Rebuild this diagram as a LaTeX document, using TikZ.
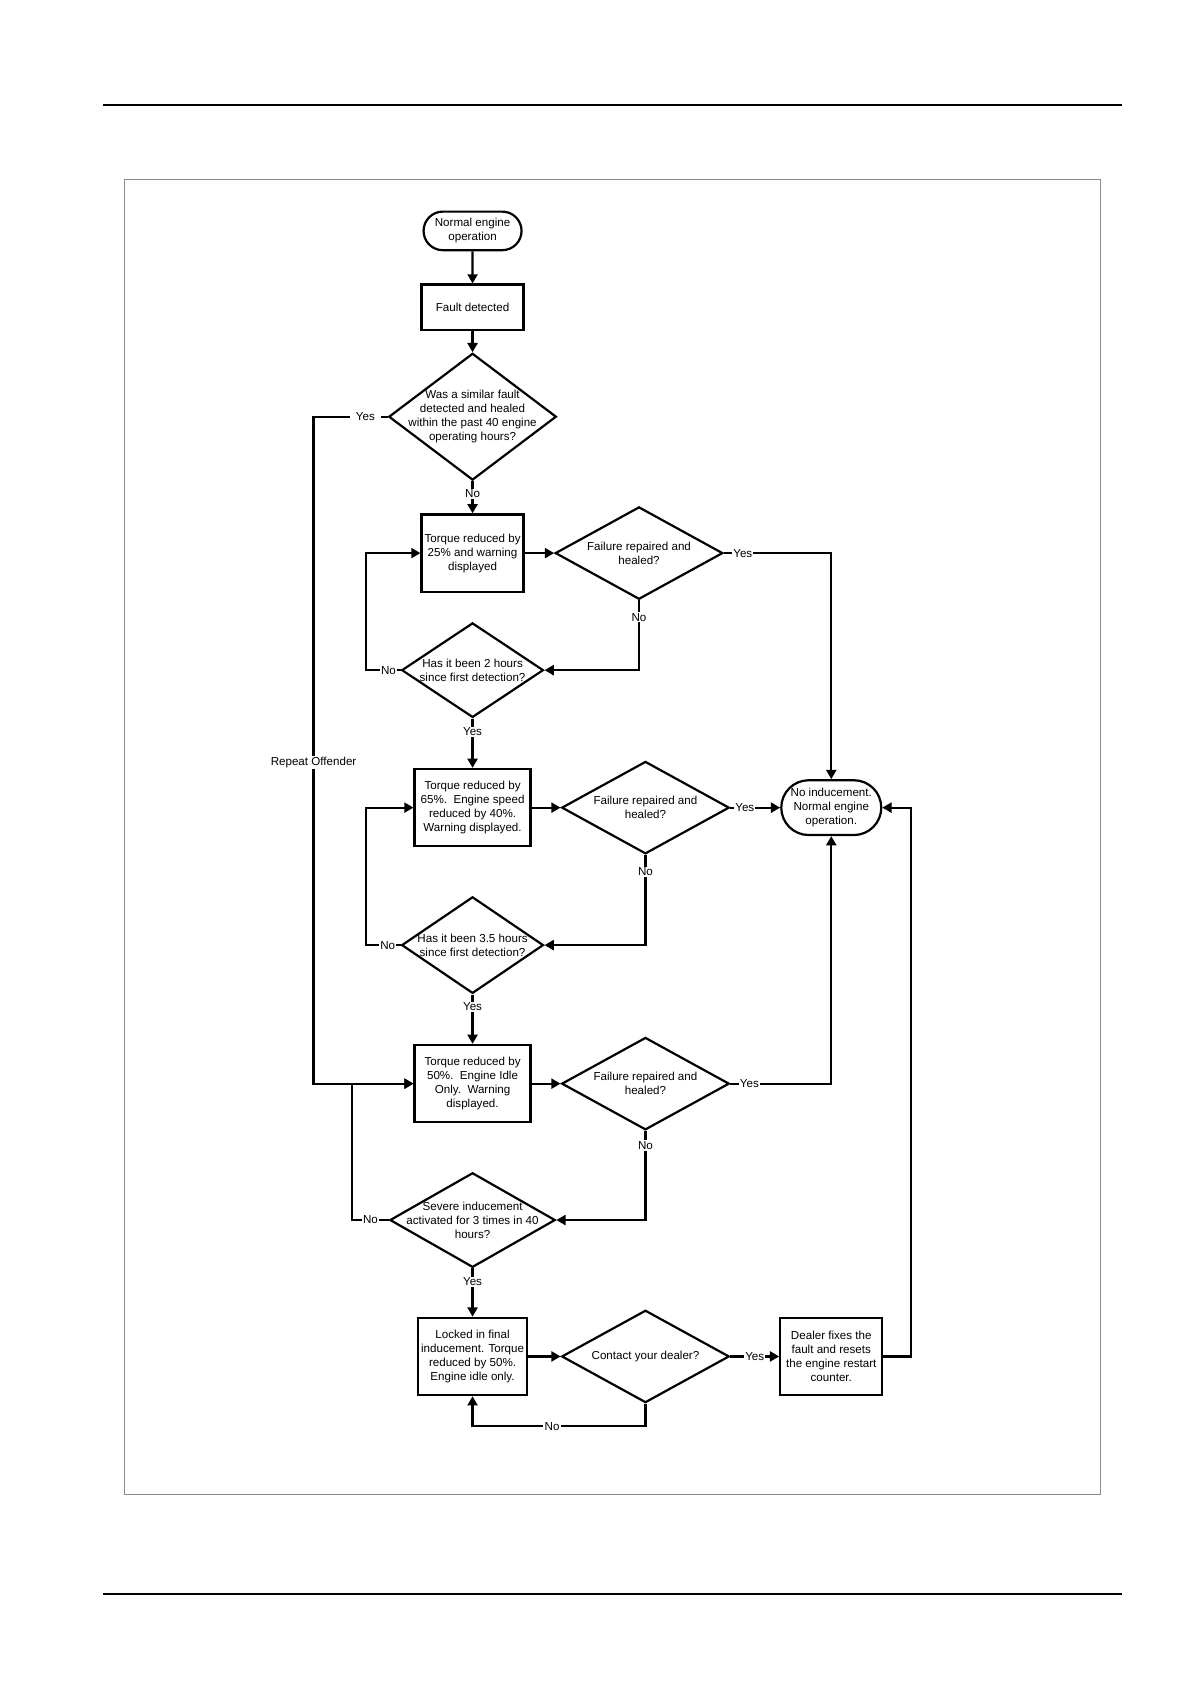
\documentclass[tikz,border=0pt]{standalone}
\usepackage{fontspec}
\setmainfont{Liberation Sans}
\usetikzlibrary{arrows.meta,shapes.geometric,shapes.misc}

\begin{document}
\begin{tikzpicture}[x=0.537pt,y=-0.537pt,>={Triangle[length=4.6pt,width=5pt]},
  every node/.style={font=\fontsize{5.8}{7}\selectfont, align=center},
  proc/.style={draw, line width=1.1pt, inner sep=1pt},
  term/.style={draw, rounded rectangle, line width=1.1pt, inner sep=1pt},
  decide/.style={draw, diamond, line width=1.1pt, inner sep=-10pt},
  flow/.style={->, line width=1.1pt},
  lbl/.style={fill=white, inner sep=0.6pt}]
  % page, rules and frame
  \useasboundingbox (0,0) rectangle (1108,1568);
  \draw[line width=1.1pt] (96,98) -- (1045,98);
  \draw[line width=1.1pt] (96,1484) -- (1045,1484);
  \draw[black!45, line width=0.4pt] (116,167) rectangle (1025,1391);

  % main column
  \node[term, minimum width=51pt, minimum height=19.3pt] (start) at (440,215) {Normal engine\\operation};
  \node[proc, minimum width=51pt, minimum height=22.6pt] (fault) at (440,286) {Fault detected};
  \node[decide, minimum width=83.8pt, minimum height=63.4pt] (q1) at (440,388)
    {Was a similar fault\\detected and healed\\within the past 40 engine\\operating hours?};
  \node[proc, minimum width=51pt, minimum height=38.7pt] (t25) at (440,515)
    {Torque reduced by\\25\% and warning\\displayed};
  \node[decide, minimum width=70.9pt, minimum height=47.3pt] (h2) at (440,624)
    {Has it been 2 hours\\since first detection?};
  \node[proc, minimum width=58pt, minimum height=38.7pt] (t65) at (440,752)
    {Torque reduced by\\65\%.\ \ Engine speed\\reduced by 40\%.\\Warning displayed.};
  \node[decide, minimum width=70.9pt, minimum height=48.3pt] (h3) at (440,880)
    {Has it been 3.5 hours\\since first detection?};
  \node[proc, minimum width=58pt, minimum height=38.7pt] (t50) at (440,1009)
    {Torque reduced by\\50\%.\ \ Engine Idle\\Only.\ \ Warning\\displayed.};
  \node[decide, minimum width=82.7pt, minimum height=47.3pt] (sev) at (440,1136)
    {Severe inducement\\activated for 3 times in 40\\hours?};
  \node[proc, minimum width=54.8pt, minimum height=38.7pt] (lock) at (440,1263)
    {Locked in final\\inducement. Torque\\reduced by 50\%.\\Engine idle only.};

  % checks on the right
  \node[decide, minimum width=83.8pt, minimum height=46.2pt] (f1) at (595,515) {Failure repaired and\\healed?};
  \node[decide, minimum width=83.8pt, minimum height=46.2pt] (f2) at (601,752) {Failure repaired and\\healed?};
  \node[decide, minimum width=83.8pt, minimum height=46.2pt] (f3) at (601,1009) {Failure repaired and\\healed?};
  \node[decide, minimum width=83.8pt, minimum height=46.2pt] (contact) at (601,1263) {Contact your dealer?};
  \node[term, minimum width=52pt, minimum height=27.4pt] (ok) at (774,752)
    {No inducement.\\Normal engine\\operation.};
  \node[proc, minimum width=51pt, minimum height=38.7pt] (dealer) at (774,1263)
    {Dealer fixes the\\fault and resets\\the engine restart\\counter.};

  % connectors
  \draw[flow] (start) -- (fault);
  \draw[flow] (fault) -- (q1);
  \draw[flow] (q1) -- node[lbl, pos=0.4]{No} (t25);
  \draw[flow] (q1.west) -- node[lbl, pos=0.3, inner xsep=3.2pt]{Yes} ++(-69,0) |- node[lbl, pos=0.259]{Repeat Offender} (t50.west);
  \draw[flow] (t25) -- (f1);
  \draw[flow] (f1.east) -| node[lbl, pos=0.088]{Yes} (ok.north);
  \draw[flow] (f1.south) |- node[lbl, pos=0.12]{No} (h2.east);
  \draw[flow] (h2.west) -- node[lbl, pos=0.35]{No} ++(-32,0) |- (t25.west);
  \draw[flow] (h2) -- node[lbl, pos=0.27]{Yes} (t65);
  \draw[flow] (t65) -- (f2);
  \draw[flow] (f2) -- node[lbl, pos=0.29]{Yes} (ok);
  \draw[flow] (f2.south) |- node[lbl, pos=0.094]{No} (h3.east);
  \draw[flow] (h3.west) -- node[lbl, pos=0.375]{No} ++(-32,0) |- (t65.west);
  \draw[flow] (h3) -- node[lbl, pos=0.25]{Yes} (t50);
  \draw[flow] (t50) -- (f3);
  \draw[flow] (f3.east) -| node[lbl, pos=0.094]{Yes} (ok.south);
  \draw[flow] (f3.south) |- node[lbl, pos=0.083]{No} (sev.east);
  \draw[flow] (sev.west) -- node[lbl, pos=0.5]{No} ++(-34,0) |- (t50.west);
  \draw[flow] (sev) -- node[lbl, pos=0.28]{Yes} (lock);
  \draw[flow] (lock) -- (contact);
  \draw[flow] (contact) -- node[lbl, pos=0.5]{Yes} (dealer);
  \draw[flow] (contact.south) -- ++(0,21) -| node[lbl, pos=0.27]{No} (lock.south);
  \draw[flow] (dealer.east) -- ++(26,0) |- (ok.east);
\end{tikzpicture}
\end{document}
